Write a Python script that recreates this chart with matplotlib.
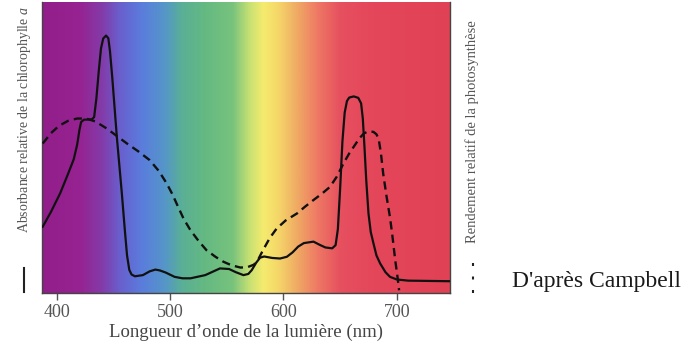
import numpy as np
import matplotlib
matplotlib.use("Agg")
import matplotlib.pyplot as plt
from matplotlib.colors import LinearSegmentedColormap
from matplotlib.lines import Line2D

plt.rcParams['font.family'] = ['Liberation Serif', 'DejaVu Serif']
plt.rcParams['mathtext.fontset'] = 'custom'
plt.rcParams['mathtext.rm'] = 'Liberation Serif'
plt.rcParams['mathtext.it'] = 'Liberation Serif:italic'

# -------------------- data --------------------
# absorbance of chlorophyll a (relative units, 0..1)
abs_nm = [387.6, 395, 403, 410, 415, 418, 420, 421.5, 424, 431, 433, 435, 437, 439,
          441, 443.5, 445.5, 447, 449, 453, 457.4, 460, 462, 464, 466, 469, 476, 482,
          487, 491, 496, 504, 511, 518, 531, 544, 552, 558, 564.7, 569, 572, 576,
          579.4, 583, 590, 597, 603, 608, 613, 618, 626.5, 632, 637, 643, 646, 648,
          650, 652, 654, 656, 658, 662, 666, 668.5, 670, 671.5, 673, 675, 677, 679.4,
          682, 685.3, 690, 694, 700, 710, 747]
abs_val = [0.228, 0.28, 0.343, 0.41, 0.46, 0.51, 0.56, 0.588, 0.596, 0.597, 0.605,
           0.67, 0.76, 0.84, 0.875, 0.885, 0.876, 0.83, 0.74, 0.537, 0.344, 0.22,
           0.13, 0.08, 0.064, 0.058, 0.062, 0.075, 0.081, 0.078, 0.071, 0.056, 0.051,
           0.051, 0.062, 0.085, 0.083, 0.072, 0.062, 0.066, 0.079, 0.105, 0.122, 0.126,
           0.121, 0.119, 0.125, 0.14, 0.16, 0.172, 0.177, 0.166, 0.157, 0.154, 0.165,
           0.22, 0.36, 0.52, 0.62, 0.66, 0.672, 0.676, 0.671, 0.652, 0.60, 0.50, 0.39,
           0.274, 0.21, 0.171, 0.13, 0.102, 0.072, 0.056, 0.047, 0.043, 0.041]

# photosynthesis yield (relative units, 0..1)
yield_nm = [387.6, 395, 402, 410, 418, 426, 434, 444, 453, 462, 472, 482, 490, 497,
            502, 507, 512, 518, 525, 532, 540, 547, 554, 562, 568, 574, 578, 582, 588,
            594, 602, 612, 619, 626.5, 634, 641, 647, 653, 658, 662, 667, 671, 675,
            679.4, 682, 684, 686, 688, 691, 694, 696, 698.6, 700.6, 702]
yield_val = [0.514, 0.55, 0.575, 0.592, 0.600, 0.600, 0.590, 0.566, 0.540, 0.514,
             0.487, 0.457, 0.420, 0.377, 0.34, 0.297, 0.255, 0.216, 0.18, 0.148, 0.125,
             0.108, 0.096, 0.088, 0.089, 0.098, 0.118, 0.148, 0.19, 0.222, 0.25, 0.274,
             0.297, 0.320, 0.342, 0.365, 0.40, 0.446, 0.48, 0.503, 0.532, 0.549, 0.556,
             0.554, 0.546, 0.530, 0.48, 0.41, 0.331, 0.26, 0.20, 0.113, 0.056, 0.01]

# visible spectrum colour stops (nm, rgb)
spec_nm = [387, 420, 440, 455, 475, 495, 510, 530, 555, 570, 582, 595, 610, 630, 650, 680, 747]
spec_rgb = [(145, 30, 138), (150, 35, 145), (130, 60, 170), (105, 95, 205), (90, 125, 220),
            (85, 150, 200), (90, 175, 150), (100, 185, 130), (120, 195, 125), (200, 225, 115),
            (245, 235, 110), (245, 215, 105), (240, 175, 100), (238, 120, 100), (230, 80, 95),
            (228, 70, 90), (225, 65, 85)]

xticks = [400, 500, 600, 700]
xmin, xmax = 387, 747

# -------------------- figure --------------------
fig = plt.figure(figsize=(7, 3.49), dpi=100)
ax = fig.add_axes([0.06, 0.16, 0.583, 0.834])

pos = [(n - xmin) / (xmax - xmin) for n in spec_nm]
cmap = LinearSegmentedColormap.from_list(
    "spectrum", list(zip(pos, [tuple(c / 255 for c in rgb) for rgb in spec_rgb])))
grad = np.linspace(0, 1, 512).reshape(1, -1)
ax.imshow(grad, cmap=cmap, aspect='auto', extent=[xmin, xmax, 0, 1], zorder=0)

ax.plot(abs_nm, abs_val, color='#111111', lw=1.6, solid_joinstyle='round', zorder=3)
ax.plot(yield_nm, yield_val, color='#111111', lw=1.7, linestyle=(0, (3.5, 2.2)), zorder=3)

ax.set_xlim(xmin, xmax)
ax.set_ylim(0, 1)
ax.set_xticks(xticks)
ax.set_yticks([])
ax.tick_params(axis='x', direction='out', length=5, width=1, color='#555555',
               labelsize=13, labelcolor='#555555', pad=3)
ax.spines['top'].set_visible(False)
for s in ['left', 'bottom', 'right']:
    ax.spines[s].set_color('#444444')
    ax.spines[s].set_linewidth(1)
ax.set_xlabel("Longueur d’onde de la lumière (nm)", fontsize=13.5, color='#444444', labelpad=2)

# axis titles with their line-style keys
fig.text(25 / 700, 1 - 120 / 349, "Absorbance relative de la chlorophylle $a$",
         rotation=90, ha='center', va='center', fontsize=10, color='#555555')
fig.add_artist(Line2D([24 / 700, 24 / 700], [1 - 292 / 349, 1 - 268 / 349],
                      color='#222222', lw=1.5))
fig.text(472 / 700, 1 - 132 / 349, "Rendement relatif de la photosynthèse",
         rotation=90, ha='center', va='center', fontsize=10.5, color='#555555')
fig.add_artist(Line2D([473 / 700, 473 / 700], [1 - 293 / 349, 1 - 263 / 349],
                      color='#222222', lw=1.5, linestyle=(0, (1.44, 5.04))))

fig.text(596 / 700, 1 - 281 / 349, "D'après Campbell", ha='center', va='center',
         fontsize=17, color='#1a1a1a')

fig.savefig("out.png", dpi=100)
